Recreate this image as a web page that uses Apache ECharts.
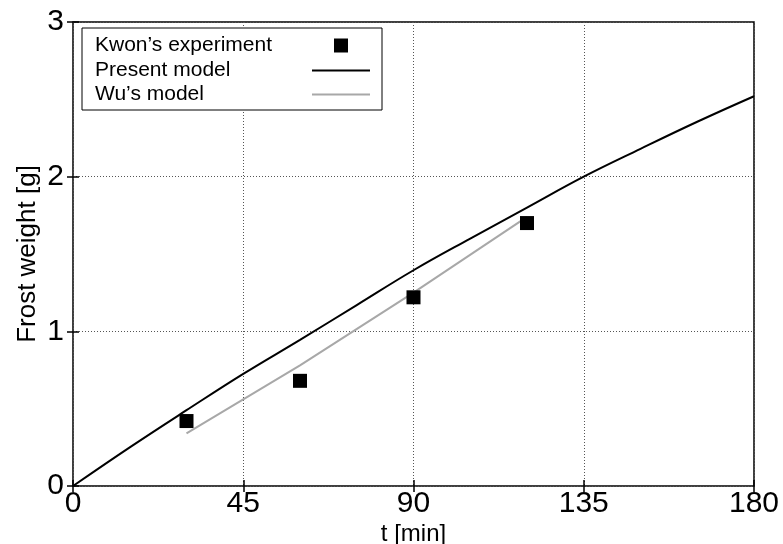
<!DOCTYPE html>
<html>
<head>
<meta charset="utf-8">
<script src="https://cdn.jsdelivr.net/npm/echarts@6/dist/echarts.min.js"></script>
<style>
  html, body { margin: 0; padding: 0; background: #fff; }
  #chart { width: 783px; height: 544px; }
</style>
</head>
<body>
<div id="chart"></div>
<script>
// Time axis ticks [min] and frost weight ticks [g]
const xTicks = [0, 45, 90, 135, 180];
const yTicks = [0, 1, 2, 3];

// Kwon's experiment (measured points)
const expTime = [30, 60, 90, 120];
const expWeight = [0.42, 0.68, 1.22, 1.70];

// Present model
const presentTime = [0, 15, 30, 45, 60, 75, 90, 105, 120, 135, 150, 165, 180];
const presentWeight = [0, 0.25, 0.49, 0.725, 0.945, 1.17, 1.395, 1.60, 1.80, 2.00, 2.18, 2.355, 2.52];

// Wu's model
const wuTime = [30, 60, 90, 120];
const wuWeight = [0.34, 0.78, 1.25, 1.74];

const seriesNames = ['Kwon\u2019s experiment', 'Present model', 'Wu\u2019s model'];

const FONT = '"Liberation Sans", Arial, Helvetica, sans-serif';
const zip = (a, b) => a.map((v, i) => [v, b[i]]);

const chart = echarts.init(document.getElementById('chart'), null, { renderer: 'canvas' });

const gridLeft = 73, gridRight = 29, gridTop = 22, gridBottom = 58;

// One legend row: text on the left, icon in a fixed column on the right
function legendEntry(name, top, iconW, textW, isLine) {
  return {
    data: [isLine ? name : { name: name, icon: 'rect' }],
    left: 95,
    top: top,
    orient: 'vertical',
    align: 'right',
    itemWidth: iconW,
    itemHeight: 14,
    padding: 0,
    selectedMode: false,
    itemStyle: isLine ? { opacity: 0, borderWidth: 0 } : { opacity: 1 },
    formatter: '{t|{name}}',
    textStyle: {
      rich: {
        t: { width: textW, align: 'left', fontFamily: FONT, fontSize: 21, color: '#000' }
      }
    }
  };
}

const option = {
  backgroundColor: '#fff',
  animation: false,
  grid: {
    left: gridLeft, right: gridRight, top: gridTop, bottom: gridBottom,
    outerBoundsMode: 'none',
    show: true, borderColor: '#000', borderWidth: 1.5, backgroundColor: 'transparent'
  },
  graphic: [{
    type: 'rect',
    z: 3,
    shape: { x: 82, y: 28, width: 300, height: 82 },
    style: { fill: '#fff', stroke: '#000', lineWidth: 1 }
  }],
  legend: [
    legendEntry(seriesNames[0], 35, 14, 234, false),
    legendEntry(seriesNames[1], 60, 58, 212, true),
    legendEntry(seriesNames[2], 84, 58, 212, true)
  ],
  xAxis: [{
    type: 'value', min: xTicks[0], max: xTicks[xTicks.length - 1], interval: 45,
    position: 'bottom',
    name: 't [min]', nameLocation: 'middle', nameGap: 36, nameMoveOverlap: false,
    nameTextStyle: { fontFamily: FONT, fontSize: 24, color: '#000' },
    axisLine: { show: false },
    axisTick: { show: true, inside: true, length: 6, lineStyle: { color: '#000', width: 1.5 } },
    axisLabel: { fontFamily: FONT, fontSize: 30, color: '#000', margin: 3 },
    splitLine: { show: true, lineStyle: { color: '#555', width: 1, type: [1, 2] } }
  }, {
    type: 'value', min: xTicks[0], max: xTicks[xTicks.length - 1], interval: 45,
    position: 'top',
    axisLine: { show: false },
    axisTick: { show: true, inside: true, length: 6, lineStyle: { color: '#000', width: 1.5 } },
    axisLabel: { show: false },
    splitLine: { show: false }
  }],
  yAxis: [{
    type: 'value', min: yTicks[0], max: yTicks[yTicks.length - 1], interval: 1,
    position: 'left',
    name: 'Frost weight [g]', nameLocation: 'middle', nameGap: 32, nameMoveOverlap: false,
    nameTextStyle: { fontFamily: FONT, fontSize: 26, color: '#000' },
    axisLine: { show: false },
    axisTick: { show: true, inside: true, length: 6, lineStyle: { color: '#000', width: 1.5 } },
    axisLabel: { fontFamily: FONT, fontSize: 30, color: '#000', margin: 9 },
    splitLine: { show: true, lineStyle: { color: '#555', width: 1, type: [1, 2] } }
  }, {
    type: 'value', min: yTicks[0], max: yTicks[yTicks.length - 1], interval: 1,
    position: 'right',
    axisLine: { show: false },
    axisTick: { show: true, inside: true, length: 6, lineStyle: { color: '#000', width: 1.5 } },
    axisLabel: { show: false },
    splitLine: { show: false }
  }],
  series: [{
    name: seriesNames[1],
    type: 'line',
    data: zip(presentTime, presentWeight),
    showSymbol: false, symbol: 'none',
    smooth: 0.4,
    lineStyle: { color: '#000', width: 2 },
    itemStyle: { color: '#000' },
    z: 2
  }, {
    name: seriesNames[2],
    type: 'line',
    data: zip(wuTime, wuWeight),
    showSymbol: false, symbol: 'none',
    lineStyle: { color: '#a8a8a8', width: 2 },
    itemStyle: { color: '#a8a8a8' },
    z: 2
  }, {
    name: seriesNames[0],
    type: 'scatter',
    data: zip(expTime, expWeight),
    symbol: 'rect', symbolSize: 14,
    itemStyle: { color: '#000', opacity: 1 },
    z: 3
  }]
};

chart.setOption(option);
</script>
</body>
</html>
